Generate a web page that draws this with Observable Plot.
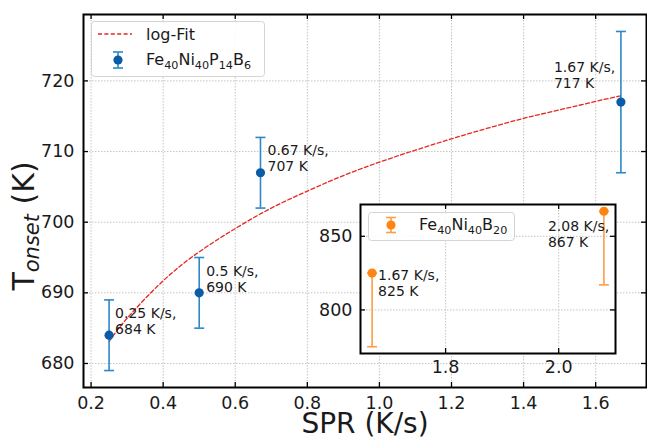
<!DOCTYPE html>
<html>
<head>
<meta charset="utf-8">
<script src="https://cdn.jsdelivr.net/npm/d3@7"></script>
<script src="https://cdn.jsdelivr.net/npm/@observablehq/plot@0.6"></script>
<style>
  html, body { margin: 0; padding: 0; background: #fff; }
  #wrap { position: relative; width: 647px; height: 439px; font-family: "DejaVu Sans", sans-serif; }
  #wrap svg { position: absolute; overflow: visible; }
</style>
</head>
<body>
<div id="wrap"></div>
<script>
// Fe40Ni40P14B6: onset temperature against scanning rate (with error bars)
const sprP = [0.25, 0.5, 0.67, 1.67];
const tonsetP = [684, 690, 707, 717];
const errP = [5, 5, 5, 10];

// logarithmic fit through the Fe40Ni40P14B6 points
const fitSpr = [0.25, 0.3, 0.4, 0.5, 0.6, 0.7, 0.8, 0.9, 1.0, 1.1, 1.2, 1.3, 1.4, 1.5, 1.6, 1.67];
const fitT = [683.1, 686.4, 691.7, 695.8, 699.1, 702.0, 704.4, 706.6, 708.5, 710.2, 711.8, 713.3, 714.7, 715.9, 717.1, 717.9];

// Fe40Ni40B20 (inset): one-sided lower error bars
const sprB = [1.67, 2.08];
const tonsetB = [825, 867];
const errLowB = [50, 50];

// tick values
const xTicks = [0.2, 0.4, 0.6, 0.8, 1.0, 1.2, 1.4, 1.6];
const yTicks = [680, 690, 700, 710, 720];
const xTicksInset = [1.8, 2.0];
const yTicksInset = [800, 850];

const FONT = '"DejaVu Sans", sans-serif';
const INK = "#1a1a1a";
const BLUE_BAR = "#2f87c8", BLUE_DOT = "#0b5ca7";
const ORANGE_BAR = "#ff9d45", ORANGE_DOT = "#ff8412";
const RED = "#e6261f";

const ptsP = sprP.map((x, i) => ({x, y: tonsetP[i], lo: tonsetP[i] - errP[i], hi: tonsetP[i] + errP[i]}));
const fit = fitSpr.map((x, i) => ({x, y: fitT[i]}));
const ptsB = sprB.map((x, i) => ({x, y: tonsetB[i], lo: tonsetB[i] - errLowB[i], hi: tonsetB[i]}));

// horizontal bar used as an error-bar cap
const capSymbol = {draw(ctx, size) { const r = Math.sqrt(size / Math.PI); ctx.moveTo(-r, 0); ctx.lineTo(r, 0); }};
const grid = {stroke: "#bdbdbd", strokeOpacity: 1, strokeWidth: 0.9, strokeDasharray: "1.5,1.5"};
const label = d => `${d.x} K/s,\n${d.y} K`;
const TL = 5; // inward tick length

function errorMarks(data, barColor, dotColor) {
  return [
    Plot.ruleX(data, {x: "x", y1: "lo", y2: "hi", stroke: barColor, strokeWidth: 1.6}),
    Plot.dot(data, {x: "x", y: "lo", symbol: capSymbol, r: 5, stroke: barColor, strokeWidth: 1.6, fill: "none"}),
    Plot.dot(data, {x: "x", y: "hi", symbol: capSymbol, r: 5, stroke: barColor, strokeWidth: 1.6, fill: "none"}),
    Plot.dot(data, {x: "x", y: "y", r: 4.6, fill: dotColor, stroke: "none"})
  ];
}
function inwardTicks(xs, ys, iw, ih) {
  const s = {stroke: "black", strokeWidth: 1.3};
  return [
    Plot.tickX(xs, {x: d => d, insetTop: ih - TL, ...s}),
    Plot.tickX(xs, {x: d => d, insetBottom: ih - TL, ...s}),
    Plot.tickY(ys, {y: d => d, insetRight: iw - TL, ...s}),
    Plot.tickY(ys, {y: d => d, insetLeft: iw - TL, ...s})
  ];
}
function note(data, x, dx, dy) {
  return Plot.text(data.filter(d => d.x === x), {
    x: "x", y: "y", text: label, textAnchor: "start", lineAnchor: "middle",
    dx, dy, fontSize: 14, lineHeight: 1.12, fill: INK
  });
}
// chemical formula with subscripted stoichiometry
function chem(sel, x, y, parts, size) {
  const t = sel.append("text").attr("x", x).attr("y", y).attr("text-anchor", "start")
    .attr("font-size", size).attr("fill", INK);
  const shift = size * 0.25;
  let lowered = false;
  parts.forEach(([s, sub]) => {
    const span = t.append("tspan").text(s);
    if (sub && !lowered) { span.attr("font-size", size * 0.7).attr("dy", shift); lowered = true; }
    else if (sub) { span.attr("font-size", size * 0.7); }
    else if (lowered) { span.attr("dy", -shift); lowered = false; }
  });
  return t;
}

// ---- main panel ----
const W = 647, H = 439, mL = 83, mT = 14, mR = 1, mB = 52;
const iw = W - mL - mR, ih = H - mT - mB;

const main = Plot.plot({
  width: W, height: H,
  marginLeft: mL, marginTop: mT, marginRight: mR, marginBottom: mB,
  style: {fontFamily: FONT, background: "transparent", color: INK},
  x: {domain: [0.179, 1.741]},
  y: {domain: [676.6, 729.4]},
  marks: [
    Plot.gridX(xTicks, grid),
    Plot.gridY(yTicks, grid),
    Plot.line(fit, {x: "x", y: "y", stroke: RED, strokeWidth: 1.3, strokeDasharray: "4,2.4", curve: "natural"}),
    ...errorMarks(ptsP, BLUE_BAR, BLUE_DOT),
    note(ptsP, 0.25, 6, -14),
    note(ptsP, 0.5, 7, -14),
    note(ptsP, 0.67, 7, -15),
    note(ptsP, 1.67, -67, -27),
    ...inwardTicks(xTicks, yTicks, iw, ih),
    Plot.axisX(xTicks, {tickSize: 0, tickPadding: 9, fontSize: 17.5, tickFormat: d3.format(".1f"), label: null}),
    Plot.axisY(yTicks, {tickSize: 0, tickPadding: 9, fontSize: 17.5, label: null}),
    Plot.frame({stroke: "black", strokeWidth: 2}),
    Plot.text(["SPR (K/s)"], {text: d => d, frameAnchor: "bottom", dy: 37, lineAnchor: "middle", fontSize: 28, fill: INK})
  ]
});
main.style.left = "0px";
main.style.top = "0px";
document.getElementById("wrap").appendChild(main);

const ms = d3.select(main);
// y-axis title with italic subscript
const yt = ms.append("text")
  .attr("transform", "translate(34,226) rotate(-90)")
  .attr("text-anchor", "middle").attr("font-family", FONT).attr("font-size", 30).attr("fill", INK);
yt.append("tspan").text("T");
yt.append("tspan").attr("font-size", 21).attr("font-style", "italic").attr("dy", 4.5).text("onset");
yt.append("tspan").attr("dy", -4.5).text(" (K)");

// legend
const lg = ms.append("g").attr("font-family", FONT).attr("text-anchor", "start");
lg.append("rect").attr("x", 91.5).attr("y", 21.5).attr("width", 173).attr("height", 55).attr("rx", 3)
  .attr("fill", "white").attr("fill-opacity", 0.85).attr("stroke", "#d4d4d4");
lg.append("line").attr("x1", 98).attr("x2", 132).attr("y1", 34).attr("y2", 34)
  .attr("stroke", RED).attr("stroke-width", 1.3).attr("stroke-dasharray", "4,2.4");
lg.append("text").attr("x", 146).attr("y", 40).attr("text-anchor", "start").attr("font-size", 16).attr("fill", INK).text("log-Fit");
lg.append("line").attr("x1", 118).attr("x2", 118).attr("y1", 52).attr("y2", 68).attr("stroke", BLUE_BAR).attr("stroke-width", 1.6);
lg.append("line").attr("x1", 113).attr("x2", 123).attr("y1", 52).attr("y2", 52).attr("stroke", BLUE_BAR).attr("stroke-width", 1.6);
lg.append("line").attr("x1", 113).attr("x2", 123).attr("y1", 68).attr("y2", 68).attr("stroke", BLUE_BAR).attr("stroke-width", 1.6);
lg.append("circle").attr("cx", 118).attr("cy", 60).attr("r", 4.6).attr("fill", BLUE_DOT);
chem(lg, 146, 65, [["Fe"], ["40", 1], ["Ni"], ["40", 1], ["P"], ["14", 1], ["B"], ["6", 1]], 16);

// ---- inset panel ----
const IX = 300, IY = 190, IW = 330, IH = 200;
const iL = 60, iT = 14, iR = 15, iB = 37;
const iiw = IW - iL - iR, iih = IH - iT - iB;

const inset = Plot.plot({
  width: IW, height: IH,
  marginLeft: iL, marginTop: iT, marginRight: iR, marginBottom: iB,
  style: {fontFamily: FONT, background: "transparent", color: INK},
  x: {domain: [1.6495, 2.1005]},
  y: {domain: [770.4, 871.6]},
  marks: [
    Plot.frame({fill: "white", stroke: "none"}),
    Plot.gridX(xTicksInset, grid),
    Plot.gridY(yTicksInset, grid),
    ...errorMarks(ptsB, ORANGE_BAR, ORANGE_DOT),
    note(ptsB, 1.67, 6, 10),
    note(ptsB, 2.08, -56, 23),
    ...inwardTicks(xTicksInset, yTicksInset, iiw, iih),
    Plot.axisX(xTicksInset, {tickSize: 0, tickPadding: 7, fontSize: 17.5, tickFormat: d3.format(".1f"), label: null}),
    Plot.axisY(yTicksInset, {tickSize: 0, tickPadding: 8, fontSize: 17.5, label: null}),
    Plot.frame({stroke: "black", strokeWidth: 2})
  ]
});
inset.style.left = IX + "px";
inset.style.top = IY + "px";
document.getElementById("wrap").appendChild(inset);

const is = d3.select(inset);
const lg2 = is.append("g").attr("font-family", FONT).attr("text-anchor", "start");
lg2.append("rect").attr("x", 68.5).attr("y", 22.5).attr("width", 146).attr("height", 28).attr("rx", 3)
  .attr("fill", "white").attr("fill-opacity", 0.85).attr("stroke", "#d4d4d4");
lg2.append("line").attr("x1", 91).attr("x2", 91).attr("y1", 27.5).attr("y2", 42.5).attr("stroke", ORANGE_BAR).attr("stroke-width", 1.6);
lg2.append("line").attr("x1", 86).attr("x2", 96).attr("y1", 27.5).attr("y2", 27.5).attr("stroke", ORANGE_BAR).attr("stroke-width", 1.6);
lg2.append("line").attr("x1", 86).attr("x2", 96).attr("y1", 42.5).attr("y2", 42.5).attr("stroke", ORANGE_BAR).attr("stroke-width", 1.6);
lg2.append("circle").attr("cx", 91).attr("cy", 35).attr("r", 4.6).attr("fill", ORANGE_DOT);
chem(lg2, 119, 40, [["Fe"], ["40", 1], ["Ni"], ["40", 1], ["B"], ["20", 1]], 16);
</script>
</body>
</html>
